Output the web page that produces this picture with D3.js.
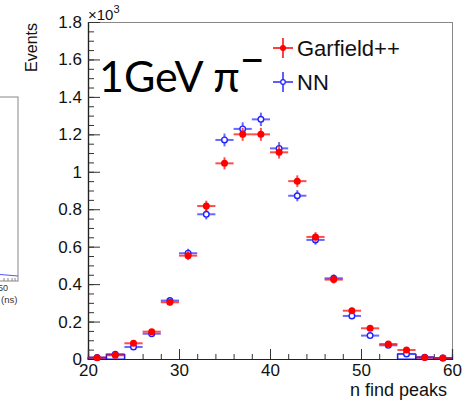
<!DOCTYPE html>
<html>
<head>
<meta charset="utf-8">
<script src="https://cdn.jsdelivr.net/npm/d3@7"></script>
<style>
  html, body { margin: 0; padding: 0; background: #fff; }
  svg { display: block; font-family: "Liberation Sans", Arial, sans-serif; }
</style>
</head>
<body>
<svg id="chart" width="470" height="402"></svg>
<script>
// ---- data (values in units of 10^3 events) ----
const binCenters = [21, 23, 25, 27, 29, 31, 33, 35, 37, 39, 41, 43, 45, 47, 49, 51, 53, 55, 57, 59];
const garfield   = [0.007, 0.020, 0.084, 0.146, 0.303, 0.552, 0.817, 1.045, 1.200, 1.200, 1.104, 0.950, 0.652, 0.424, 0.258, 0.164, 0.080, 0.048, 0.008, 0.005];
const nn         = [0.008, 0.025, 0.064, 0.135, 0.312, 0.565, 0.773, 1.170, 1.229, 1.280, 1.125, 0.872, 0.636, 0.431, 0.230, 0.125, 0.073, 0.027, 0.010, 0.005];
const binWidth = 2;
const yMajorTicks = [0, 0.2, 0.4, 0.6, 0.8, 1, 1.2, 1.4, 1.6, 1.8];
const yMinorTicks = d3.range(0, 36).map(i => i * 0.05);
const xMajorTicks = [20, 30, 40, 50, 60];
const xMinorTicks = d3.range(20, 61, 2);
const seriesNames = ["Garfield++", "NN"];

const svg = d3.select("#chart");
const L = 88, R = 452, T = 22, B = 359;
const x = d3.scaleLinear().domain([20, 60]).range([L, R]);
const y = d3.scaleLinear().domain([0, 1.8]).range([B, T]);

// ---- partial neighbouring plot at far left ----
const left = svg.append("g");
left.append("rect").attr("x", -2).attr("y", 97).attr("width", 20).attr("height", 184)
  .attr("fill", "none").attr("stroke", "#888").attr("stroke-width", 1);
left.append("path").attr("d", "M0,274.5 L18,276").attr("stroke", "#55f").attr("stroke-width", 1.2).attr("fill", "none");
[4, 8, 12, 15].forEach(px => left.append("line").attr("x1", px).attr("x2", px).attr("y1", 281).attr("y2", 278).attr("stroke", "#888"));
left.append("text").attr("x", 3).attr("y", 291).attr("text-anchor", "middle").attr("font-size", 9).attr("fill", "#333").text("50");
left.append("text").attr("x", 1).attr("y", 303).attr("font-size", 9.5).attr("fill", "#333").text("(ns)");

// ---- frame ----
svg.append("line").attr("x1", L).attr("x2", R).attr("y1", T + 0.5).attr("y2", T + 0.5).attr("stroke", "#888");
svg.append("line").attr("x1", R + 0.5).attr("x2", R + 0.5).attr("y1", T).attr("y2", B).attr("stroke", "#888");

// ---- axes ----
const yMinor = svg.append("g").attr("transform", `translate(${L},0)`)
  .call(d3.axisLeft(y).tickValues(yMinorTicks).tickSize(-6).tickFormat(""));
const yMajor = svg.append("g").attr("transform", `translate(${L},0)`)
  .call(d3.axisLeft(y).tickValues(yMajorTicks).tickSize(-12).tickPadding(6).tickFormat(d3.format("~g")));
const xMinor = svg.append("g").attr("transform", `translate(0,${B})`)
  .call(d3.axisBottom(x).tickValues(xMinorTicks).tickSize(-5).tickFormat(""));
const xMajor = svg.append("g").attr("transform", `translate(0,${B})`)
  .call(d3.axisBottom(x).tickValues(xMajorTicks).tickSize(-10).tickPadding(5).tickFormat(d3.format("d")));
[yMinor, yMajor, xMinor, xMajor].forEach(g => {
  g.select(".domain").attr("stroke", "#222").attr("stroke-width", 1.2);
  g.selectAll(".tick line").attr("stroke", "#333");
  g.selectAll("text").attr("font-size", 17).attr("fill", "#111")
    .attr("font-family", "'Liberation Sans', Arial, sans-serif");
});

// ---- axis titles ----
svg.append("text").attr("transform", "translate(37,23) rotate(-90)")
  .attr("text-anchor", "end").attr("font-size", 16).attr("fill", "#111").text("Events");
svg.append("text").attr("x", 447).attr("y", 396).attr("text-anchor", "end")
  .attr("font-size", 18).attr("fill", "#111").text("n find peaks");
const mult = svg.append("text").attr("x", 88).attr("y", 20).attr("font-size", 15).attr("fill", "#111");
mult.append("tspan").text("×10");
mult.append("tspan").attr("dy", -7).attr("font-size", 11).text("3");

// ---- data points ----
function drawSeries(values, color, barColor, filled) {
  const g = svg.append("g");
  const pts = binCenters.map((c, i) => ({ c, v: values[i], e: Math.sqrt(values[i] * 1000) / 1000 }));
  g.selectAll("line.h").data(pts).join("line")
    .attr("x1", d => x(d.c - binWidth / 2)).attr("x2", d => x(d.c + binWidth / 2))
    .attr("y1", d => y(d.v)).attr("y2", d => y(d.v))
    .attr("stroke", barColor).attr("stroke-width", 2);
  g.selectAll("line.v").data(pts).join("line")
    .attr("x1", d => x(d.c)).attr("x2", d => x(d.c))
    .attr("y1", d => y(d.v + d.e)).attr("y2", d => y(Math.max(0, d.v - d.e)))
    .attr("stroke", barColor).attr("stroke-width", 2);
  g.selectAll("circle").data(pts).join("circle")
    .attr("cx", d => x(d.c)).attr("cy", d => y(d.v))
    .attr("r", filled ? 3.5 : 2.8)
    .attr("fill", filled ? color : "#fff")
    .attr("stroke", color).attr("stroke-width", filled ? 0 : 1.4);
  return g;
}
// outline for tiny NN bins
const lowBins = binCenters.map((c, i) => ({ c, v: nn[i] })).filter(d => d.v < 0.03);
svg.append("g").selectAll("rect").data(lowBins).join("rect")
  .attr("x", d => x(d.c - binWidth / 2)).attr("width", x(binWidth) - x(0))
  .attr("y", d => y(d.v)).attr("height", d => y(0) - y(d.v))
  .attr("fill", "none").attr("stroke", "rgba(0,0,255,0.75)").attr("stroke-width", 1.2);

drawSeries(nn, "#2222ff", "rgba(40,40,255,0.7)", false);
drawSeries(garfield, "#ff0000", "rgba(255,0,0,0.7)", true);

// ---- legend ----
const legend = svg.append("g");
const legendItems = [
  { name: seriesNames[0], color: "#ff0000", bar: "rgba(255,0,0,0.75)", filled: true, cy: 48 },
  { name: seriesNames[1], color: "#2222ff", bar: "rgba(40,40,255,0.75)", filled: false, cy: 82 }
];
legendItems.forEach(it => {
  legend.append("line").attr("x1", 273).attr("x2", 293).attr("y1", it.cy).attr("y2", it.cy)
    .attr("stroke", it.bar).attr("stroke-width", 2);
  legend.append("line").attr("x1", 283).attr("x2", 283).attr("y1", it.cy - 10).attr("y2", it.cy + 10)
    .attr("stroke", it.bar).attr("stroke-width", 2);
  legend.append("circle").attr("cx", 283).attr("cy", it.cy).attr("r", it.filled ? 3 : 2.3)
    .attr("fill", it.filled ? it.color : "#fff").attr("stroke", it.color).attr("stroke-width", it.filled ? 0 : 1.2);
  legend.append("text").attr("x", 297).attr("y", it.cy + 8).attr("font-size", 22).attr("fill", "#111").text(it.name);
});

// ---- big annotation ----
const ann = svg.append("text").attr("x", 99).attr("y", 92)
  .attr("font-family", "Lato, 'Open Sans', sans-serif").attr("font-size", 43).attr("fill", "#000");
ann.append("tspan").text("1GeV π");
ann.append("tspan").attr("dy", -17).text("−");
</script>
</body>
</html>
